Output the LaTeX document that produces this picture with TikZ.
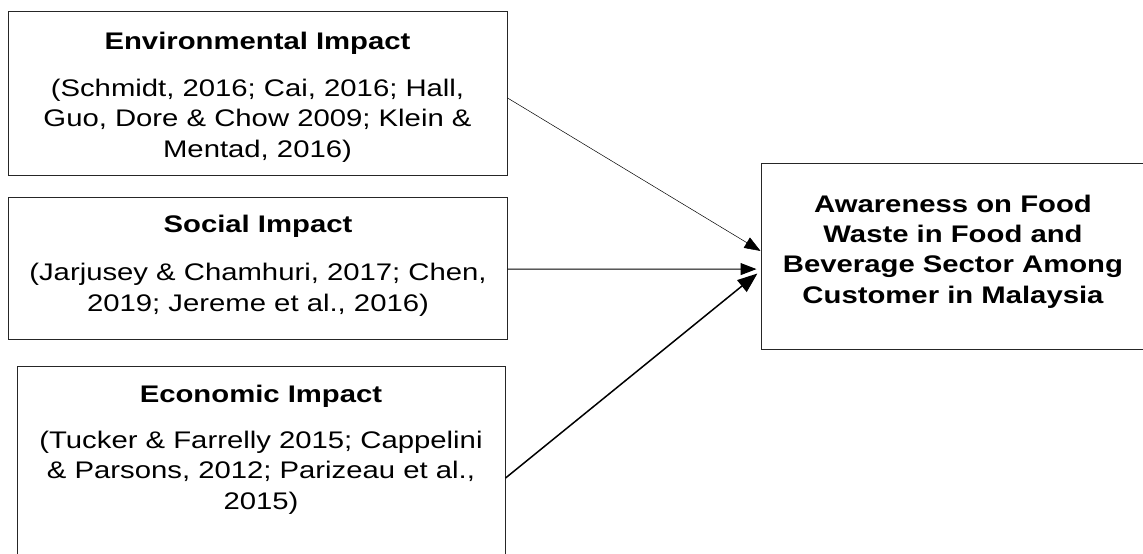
\documentclass[tikz,border=0pt]{standalone}
\usepackage{fontspec}
\setmainfont{Liberation Sans}[FakeStretch=1.22]
\usetikzlibrary{arrows.meta,calc}
\begin{document}
\begin{tikzpicture}[x=1pt,y=-1pt,
  box/.style={draw=black!85,line width=1pt,rectangle,inner sep=0pt},
  ttl/.style={font=\fontsize{24}{30.5}\selectfont\bfseries,anchor=base,inner sep=0pt},
  body/.style={font=\fontsize{24}{30.5}\selectfont,align=center,anchor=base,inner sep=0pt},
  rbody/.style={font=\fontsize{24}{30.3}\selectfont\bfseries,align=center,anchor=base,inner sep=0pt},
  conn/.style={-{Triangle[length=16pt,width=12pt]},draw=black}]
\useasboundingbox (0,0) rectangle (1143,554);
\fill[white] (0,0) rectangle (1143,554);
% boxes
\node[box,minimum width=499pt,minimum height=164pt] (env) at (257.5,93) {};
\node[box,minimum width=499pt,minimum height=142pt] (soc) at (257.5,268) {};
\node[box,minimum width=488pt,minimum height=204pt] (eco) at (261,468) {};
\node[box,minimum width=384pt,minimum height=186pt] (rb) at (953,256) {};
% texts (base = baseline of last line)
\node[ttl] (envt) at (257.5,49) {Environmental Impact};
\node[body] (envb) at (257.5,157) {(Schmidt, 2016; Cai, 2016; Hall,\\Guo, Dore \& Chow 2009; Klein \&\\Mentad, 2016)};
\node[ttl] (soct) at (258,232) {Social Impact};
\node[body,font=\fontsize{24}{31.5}\selectfont] (socb) at (258,311.5) {(Jarjusey \& Chamhuri, 2017; Chen,\\2019; Jereme et al., 2016)};
\node[ttl] (ecot) at (261,402) {Economic Impact};
\node[body] (ecob) at (261,509) {(Tucker \& Farrelly 2015; Cappelini\\\& Parsons, 2012; Parizeau et al.,\\2015)};
\node[rbody] (rbt) at (953,303) {Awareness on Food\\Waste in Food and\\Beverage Sector Among\\Customer in Malaysia};
% connectors
\draw[conn,line width=0.5pt] ($(env.north east)!0.53!(env.south east)$) -- ($(rb.north west)!0.473!(rb.south west)$);
\draw[conn,line width=1pt,shorten >=4pt] ($(soc.north east)!0.507!(soc.south east)$) -- ($(rb.north west)!0.57!(rb.south west)$);
\draw[conn,line width=1.5pt,shorten >=4pt,-{Triangle[length=20pt,width=15pt]}] ($(eco.north east)!0.549!(eco.south east)$) -- ($(rb.north west)!0.58!(rb.south west)$);
\end{tikzpicture}
\end{document}
